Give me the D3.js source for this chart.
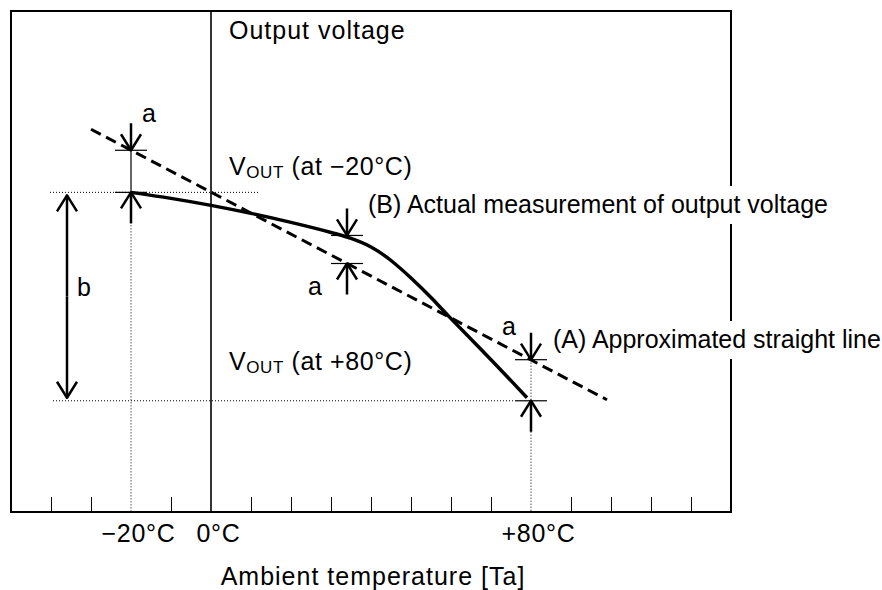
<!DOCTYPE html>
<html><head><meta charset="utf-8">
<script src="https://cdn.jsdelivr.net/npm/d3@7"></script>
<style>
body{margin:0;background:#fff}
svg{display:block}
text{font-family:"Liberation Sans",Arial,Helvetica,sans-serif;fill:#000}
</style>
</head><body>
<svg id="c" width="882" height="590"></svg>
<script>
// ---- data ----
const measuredT = [-20, -10, 0, 10, 20, 30, 35, 40, 45, 50, 55, 60, 70, 79];
const measuredV = [319, 313, 306, 298, 289, 279, 273, 264.5, 251, 233.5, 214, 193, 152, 114];
const lineT = [-30, 99];
const lineV = [382, 112];
const voutT = [-20, 80];
const voutV = [319, 111];
const aT = [-20, 34, 80];
const aUpper = [361, 276, 152];
const aLower = [319, 248, 111];
const bT = -36;
const bRange = [316, 114];
const tickValues = [-40, -30, -10, 10, 20, 30, 40, 50, 60, 70, 90, 100, 110, 120];
const tickLabelT = [-20, 0, 80];
const tickLabels = ["\u221220\u00b0C", "0\u00b0C", "+80\u00b0C"];
const xDomain = [-50, 130];
const yDomain = [0, 500];

// ---- scales ----
const x = d3.scaleLinear().domain(xDomain).range([11, 731]);
const y = d3.scaleLinear().domain(yDomain).range([512, 11]);
const svg = d3.select("#c");

// frame
svg.append("rect").attr("x", x(xDomain[0])).attr("y", y(yDomain[1]))
  .attr("width", x(xDomain[1]) - x(xDomain[0])).attr("height", y(yDomain[0]) - y(yDomain[1]))
  .attr("fill", "none").attr("stroke", "#000").attr("stroke-width", 2);

// axis ticks (inward)
const ax = svg.append("g").attr("transform", `translate(0,${y(0)})`)
  .call(d3.axisBottom(x).tickValues(tickValues).tickSize(-15).tickFormat(""));
ax.select(".domain").remove();
ax.selectAll(".tick line").attr("stroke", "#000").attr("stroke-width", 1);

// 0°C vertical
svg.append("line").attr("x1", x(0)).attr("x2", x(0)).attr("y1", y(yDomain[1])).attr("y2", y(0))
  .attr("stroke", "#000").attr("stroke-width", 1.6);

const dotted = (x1, y1, x2, y2) => svg.append("line")
  .attr("x1", x1).attr("y1", y1).attr("x2", x2).attr("y2", y2)
  .attr("stroke", "#000").attr("stroke-width", 1).attr("stroke-dasharray", "1,2");

// dotted guide lines
dotted(x(-40.25), y(voutV[0]), x(12), y(voutV[0]));
dotted(x(-39.5), y(voutV[1]), x(75.5), y(voutV[1]));
dotted(x(voutT[0]), y(aLower[0]) + 30, x(voutT[0]), y(0));
dotted(x(voutT[1]), y(aUpper[2]), x(voutT[1]), y(0));

// thin solid between a marks at -20
svg.append("line").attr("x1", x(aT[0])).attr("x2", x(aT[0]))
  .attr("y1", y(aUpper[0])).attr("y2", y(aLower[0])).attr("stroke", "#000").attr("stroke-width", 1.2);

// approximated straight line (dashed)
svg.append("path").datum(lineT.map((t, i) => [t, lineV[i]]))
  .attr("d", d3.line().x(d => x(d[0])).y(d => y(d[1])))
  .attr("fill", "none").attr("stroke", "#000").attr("stroke-width", 3).attr("stroke-dasharray", "11,6");

// measured curve
svg.append("path").datum(measuredT.map((t, i) => [t, measuredV[i]]))
  .attr("d", d3.line().curve(d3.curveNatural).x(d => x(d[0])).y(d => y(d[1])))
  .attr("fill", "none").attr("stroke", "#000").attr("stroke-width", 3.5);

// arrows
function arrow(xp, yTip, dir, len) {
  svg.append("line").attr("x1", xp).attr("x2", xp).attr("y1", yTip - dir * len).attr("y2", yTip)
    .attr("stroke", "#000").attr("stroke-width", 2.5);
  svg.append("path").attr("d", `M${xp - 10},${yTip - dir * 16}L${xp},${yTip}L${xp + 10},${yTip - dir * 16}`)
    .attr("fill", "none").attr("stroke", "#000").attr("stroke-width", 2.5).attr("stroke-linejoin", "round");
}
function hTick(xp, yp) {
  svg.append("line").attr("x1", xp - 16).attr("x2", xp + 16).attr("y1", yp).attr("y2", yp)
    .attr("stroke", "#000").attr("stroke-width", 1.2);
}
aT.forEach((t, i) => {
  const xp = x(t);
  hTick(xp, y(aUpper[i]));
  hTick(xp, y(aLower[i]));
  arrow(xp, y(aUpper[i]), 1, 27);
  arrow(xp, y(aLower[i]), -1, 31);
});
// b double arrow
arrow(x(bT), y(bRange[0]), -1, (y(bRange[1]) - y(bRange[0])) / 2);
arrow(x(bT), y(bRange[1]), 1, (y(bRange[1]) - y(bRange[0])) / 2);

// texts
function label(txt, xp, yp, opts = {}) {
  const t = svg.append("text").attr("x", xp).attr("y", yp).attr("font-size", opts.size || 25)
    .attr("text-anchor", opts.anchor || "start").text(txt);
  if (opts.ls) t.attr("letter-spacing", opts.ls);
  return t;
}
function bgLabel(txt, xp, yp) {
  const g = svg.append("g");
  const t = g.append("text").attr("x", xp).attr("y", yp).attr("font-size", 25).text(txt);
  const bb = t.node().getBBox();
  g.insert("rect", "text").attr("x", bb.x - 3).attr("y", bb.y - 4)
    .attr("width", bb.width + 6).attr("height", bb.height + 10).attr("fill", "#fff");
}
function voutLabel(suffix, xp, yp) {
  const t = svg.append("text").attr("x", xp).attr("y", yp).attr("font-size", 25).attr("letter-spacing", 0.6);
  t.append("tspan").text("V");
  t.append("tspan").attr("font-size", 17).attr("dy", 3).text("OUT");
  t.append("tspan").attr("dy", -3).text(" " + suffix);
}

label("Output voltage", 229, 39, {ls: 1});
voutLabel("(at \u221220\u00b0C)", 229, 175);
voutLabel("(at +80\u00b0C)", 229, 370);
bgLabel("(B) Actual measurement of output voltage", 368, 213);
bgLabel("(A) Approximated straight line", 553, 348);
label("a", 142, 122);
label("a", 308, 295);
label("a", 502, 335);
label("b", 77, 296);

tickLabelT.forEach((t, i) => label(tickLabels[i], x(t) + 7.5, 542, {anchor: "middle", ls: 0.7}));
label("Ambient temperature [Ta]", 373, 585, {anchor: "middle", ls: 1});
</script>
</body></html>
